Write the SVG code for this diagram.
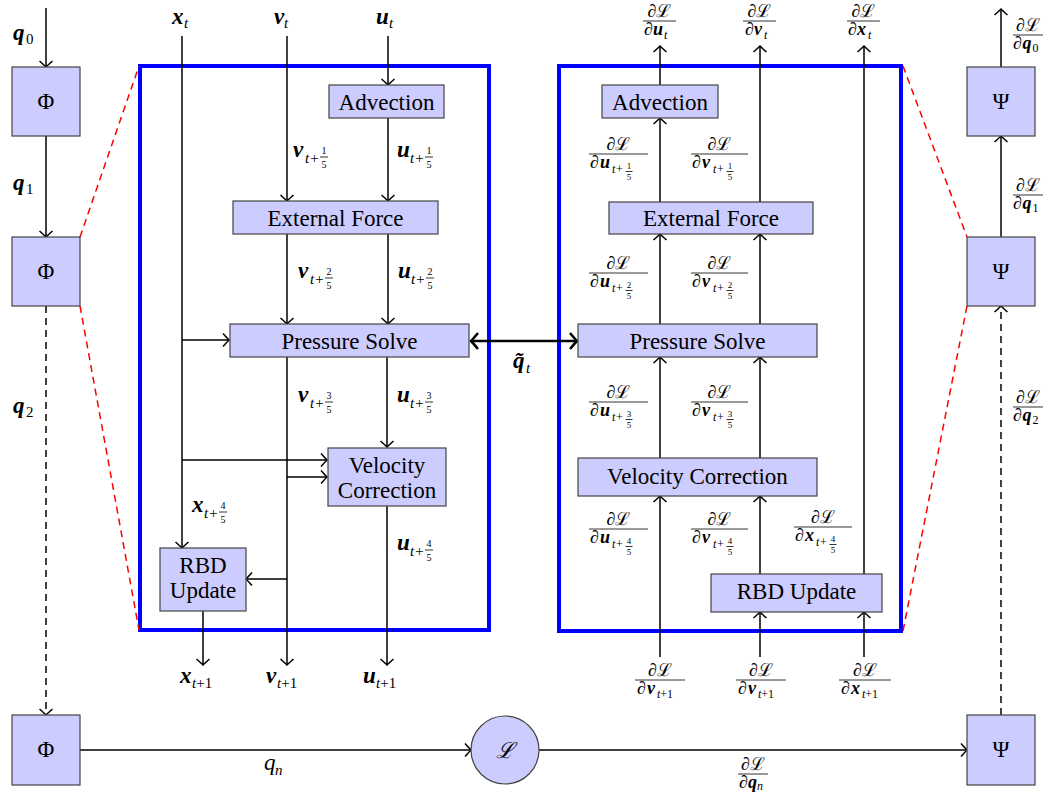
<svg xmlns="http://www.w3.org/2000/svg" width="1049" height="792" viewBox="0 0 1049 792" font-family="Liberation Serif">
<style>
text{font-family:"Liberation Serif",serif;fill:#000}
.bx{fill:#ccccff;stroke:#444;stroke-width:1.2}
.bt{font-size:23px;text-anchor:middle}
.m{font-size:23px}
.b{font-weight:bold;font-style:italic}
.i{font-style:italic}
.s{font-size:15px;font-style:italic}
.sr{font-size:15px}
.fd{font-size:10px;text-anchor:middle}
.fr{font-size:18px}
.fc{font-size:18px;text-anchor:middle}
.fs{font-size:12px;font-style:italic}
.fsr{font-size:12px}
.fx{font-size:9px;text-anchor:middle}
.fl{stroke:#000;stroke-width:0.8}
.ln{stroke:#000;stroke-width:1.5;fill:none}
.a{marker-end:url(#ah)}
.dsh{stroke-dasharray:7 5}
.red{stroke:#ff0000;stroke-width:1.5;stroke-dasharray:7 5;fill:none}
.blue{stroke:#0000ff;stroke-width:4;fill:none}
</style>
<defs>
<marker id="ah" markerUnits="userSpaceOnUse" viewBox="-8 -8 10 16" markerWidth="10" markerHeight="16" refX="0" refY="0" orient="auto" overflow="visible">
<path d="M-6,-6.5 Q-1.5,-1.5 0,0 Q-1.5,1.5 -6,6.5" fill="none" stroke="#000" stroke-width="1.5"/>
</marker>
<marker id="ahT" markerUnits="userSpaceOnUse" viewBox="-10 -10 12 20" markerWidth="12" markerHeight="20" refX="0" refY="0" orient="auto-start-reverse" overflow="visible">
<path d="M-7,-8 Q-2,-2 0,0 Q-2,2 -7,8" fill="none" stroke="#000" stroke-width="2.5"/>
</marker>
</defs>
<rect width="1049" height="792" fill="#fff"/>

<g id="frames">
<rect class="blue" x="140" y="66" width="349" height="564"/>
<rect class="blue" x="559" y="66" width="342" height="565"/>
<line class="red" x1="80" y1="237" x2="139" y2="66"/>
<line class="red" x1="80" y1="306" x2="139" y2="630"/>
<line class="red" x1="903" y1="66" x2="967" y2="237"/>
<line class="red" x1="967" y1="306" x2="903" y2="631"/>
</g>

<g id="connectors">
<path class="ln a" d="M46 8V67"/>
<path class="ln a" d="M46 136V237"/>
<path class="ln a dsh" d="M46 306V715"/>
<path class="ln a" d="M80 750H471"/>
<path class="ln a" d="M539 750H967"/>
<path class="ln a" d="M1001 67V9"/>
<path class="ln a" d="M1001 237V136"/>
<path class="ln a dsh" d="M1001 715V306"/>
<path class="ln a" d="M182 36V548"/>
<path class="ln a" d="M182 340H229"/>
<path class="ln a" d="M182 460H327"/>
<path class="ln a" d="M287 36V201"/>
<path class="ln a" d="M388 36V85"/>
<path class="ln a" d="M388 118V201"/>
<path class="ln a" d="M287 234V324"/>
<path class="ln a" d="M388 234V324"/>
<path class="ln a" d="M287 357V665"/>
<path class="ln a" d="M287 477H327"/>
<path class="ln a" d="M287 579H246"/>
<path class="ln a" d="M387 357V447"/>
<path class="ln a" d="M387 506V665"/>
<path class="ln a" d="M203 611V665"/>
<path d="M471 341H577" fill="none" stroke="#000" stroke-width="2.5" marker-start="url(#ahT)" marker-end="url(#ahT)"/>
<path class="ln a" d="M660 85V46"/>
<path class="ln a" d="M760 202V46"/>
<path class="ln a" d="M864 574V46"/>
<path class="ln a" d="M660 202V118"/>
<path class="ln a" d="M660 324V234"/>
<path class="ln a" d="M760 324V234"/>
<path class="ln a" d="M660 458V357"/>
<path class="ln a" d="M760 458V357"/>
<path class="ln a" d="M660 657V496"/>
<path class="ln a" d="M760 574V496"/>
<path class="ln a" d="M760 657V612"/>
<path class="ln a" d="M864 657V612"/>
</g>

<g id="phi1"><rect class="bx" x="12" y="67" width="68" height="69"/><text class="bt" x="46" y="109">Φ</text></g>
<g id="phi2"><rect class="bx" x="12" y="237" width="68" height="69"/><text class="bt" x="46" y="279">Φ</text></g>
<g id="phi3"><rect class="bx" x="12" y="715" width="68" height="70"/><text class="bt" x="46" y="757">Φ</text></g>
<g id="psi1"><rect class="bx" x="967" y="67" width="68" height="69"/><text class="bt" x="1001" y="109">Ψ</text></g>
<g id="psi2"><rect class="bx" x="967" y="237" width="68" height="69"/><text class="bt" x="1001" y="279">Ψ</text></g>
<g id="psi3"><rect class="bx" x="967" y="715" width="68" height="70"/><text class="bt" x="1001" y="757">Ψ</text></g>
<g id="loss"><circle class="bx" cx="505" cy="750" r="34"/><text x="505" y="758" font-size="22" text-anchor="middle" font-style="italic">ℒ</text></g>

<g id="l-adv"><rect class="bx" x="329" y="85" width="115" height="33"/><text class="bt" x="386.5" y="110">Advection</text></g>
<g id="l-ext"><rect class="bx" x="233" y="201" width="205" height="33"/><text class="bt" x="335.5" y="226">External Force</text></g>
<g id="l-ps"><rect class="bx" x="230" y="324" width="239" height="33"/><text class="bt" x="349.5" y="349">Pressure Solve</text></g>
<g id="l-vc"><rect class="bx" x="328" y="448" width="118" height="58"/><text class="bt" x="387" y="473">Velocity</text><text class="bt" x="387" y="498">Correction</text></g>
<g id="l-rbd"><rect class="bx" x="160" y="548" width="86" height="63"/><text class="bt" x="203" y="573">RBD</text><text class="bt" x="203" y="598">Update</text></g>

<g id="r-adv"><rect class="bx" x="602" y="85" width="116" height="33"/><text class="bt" x="660" y="110">Advection</text></g>
<g id="r-ext"><rect class="bx" x="609" y="202" width="204" height="32"/><text class="bt" x="711" y="226">External Force</text></g>
<g id="r-ps"><rect class="bx" x="578" y="324" width="239" height="33"/><text class="bt" x="697.5" y="349">Pressure Solve</text></g>
<g id="r-vc"><rect class="bx" x="578" y="458" width="239" height="38"/><text class="bt" x="697.5" y="484">Velocity Correction</text></g>
<g id="r-rbd"><rect class="bx" x="711" y="574" width="171" height="38"/><text class="bt" x="796.5" y="599">RBD Update</text></g>

<g id="labels-left">
<text class="m b" x="13" y="40">q</text><text class="sr" x="26" y="44">0</text>
<text class="m b" x="13" y="190">q</text><text class="sr" x="26" y="194">1</text>
<text class="m b" x="13" y="413">q</text><text class="sr" x="26" y="417">2</text>
<text class="m i" x="264" y="770">q</text><text class="s" x="275" y="775">n</text>

<text class="m b" x="172" y="24">x</text><text class="s" x="184" y="28">t</text>
<text class="m b" x="274" y="24">v</text><text class="s" x="284" y="28">t</text>
<text class="m b" x="376" y="24">u</text><text class="s" x="389" y="28">t</text>

<g transform="translate(293,157)"><text class="m b">v</text><text class="s" x="12" y="6">t+</text><text class="fd" x="31" y="-3">1</text><line class="fl" x1="27" y1="0" x2="35" y2="0"/><text class="fd" x="31" y="11">5</text></g>
<g transform="translate(397,157)"><text class="m b">u</text><text class="s" x="13" y="6">t+</text><text class="fd" x="32" y="-3">1</text><line class="fl" x1="28" y1="0" x2="36" y2="0"/><text class="fd" x="32" y="11">5</text></g>
<g transform="translate(298,278)"><text class="m b">v</text><text class="s" x="12" y="6">t+</text><text class="fd" x="31" y="-3">2</text><line class="fl" x1="27" y1="0" x2="35" y2="0"/><text class="fd" x="31" y="11">5</text></g>
<g transform="translate(398,278)"><text class="m b">u</text><text class="s" x="13" y="6">t+</text><text class="fd" x="32" y="-3">2</text><line class="fl" x1="28" y1="0" x2="36" y2="0"/><text class="fd" x="32" y="11">5</text></g>
<g transform="translate(298,402)"><text class="m b">v</text><text class="s" x="12" y="6">t+</text><text class="fd" x="31" y="-3">3</text><line class="fl" x1="27" y1="0" x2="35" y2="0"/><text class="fd" x="31" y="11">5</text></g>
<g transform="translate(397,402)"><text class="m b">u</text><text class="s" x="13" y="6">t+</text><text class="fd" x="32" y="-3">3</text><line class="fl" x1="28" y1="0" x2="36" y2="0"/><text class="fd" x="32" y="11">5</text></g>
<g transform="translate(192,512)"><text class="m b">x</text><text class="s" x="12" y="6">t+</text><text class="fd" x="31" y="-3">4</text><line class="fl" x1="27" y1="0" x2="35" y2="0"/><text class="fd" x="31" y="11">5</text></g>
<g transform="translate(397,550)"><text class="m b">u</text><text class="s" x="13" y="6">t+</text><text class="fd" x="32" y="-3">4</text><line class="fl" x1="28" y1="0" x2="36" y2="0"/><text class="fd" x="32" y="11">5</text></g>

<text class="m b" x="180" y="683">x</text><text class="s" x="192" y="688">t<tspan font-style="normal">+1</tspan></text>
<text class="m b" x="266" y="683">v</text><text class="s" x="277" y="688">t<tspan font-style="normal">+1</tspan></text>
<text class="m b" x="363" y="683">u</text><text class="s" x="376" y="688">t<tspan font-style="normal">+1</tspan></text>

<text class="m b" x="513" y="368">q̃</text><text class="s" x="526" y="373">t</text>
</g>

<g id="labels-right">
<g transform="translate(643,21)"><line class="fl" x1="0" y1="0" x2="33" y2="0"/><text class="fc" x="16.5" y="-4">∂ℒ</text><text class="fr" x="1" y="14">∂</text><text class="fr b" x="10" y="14">u</text><text class="fs" x="21" y="18">t</text></g>
<g transform="translate(743,21)"><line class="fl" x1="0" y1="0" x2="33" y2="0"/><text class="fc" x="16.5" y="-4">∂ℒ</text><text class="fr" x="2" y="14">∂</text><text class="fr b" x="11" y="14">v</text><text class="fs" x="21" y="18">t</text></g>
<g transform="translate(847,21)"><line class="fl" x1="0" y1="0" x2="33" y2="0"/><text class="fc" x="16.5" y="-4">∂ℒ</text><text class="fr" x="1" y="14">∂</text><text class="fr b" x="10" y="14">x</text><text class="fs" x="21" y="18">t</text></g>

<g transform="translate(589,154)"><line class="fl" x1="0" y1="0" x2="59" y2="0"/><text class="fc" x="29.5" y="-4">∂ℒ</text><text class="fr" x="1" y="14">∂</text><text class="fr b" x="11" y="14">u</text><text class="fs" x="23" y="19">t+</text><text class="fx" x="40" y="15">1</text><line class="fl" x1="36.5" y1="17.5" x2="43.5" y2="17.5"/><text class="fx" x="40" y="26">5</text></g>
<g transform="translate(691,154)"><line class="fl" x1="0" y1="0" x2="57" y2="0"/><text class="fc" x="28.5" y="-4">∂ℒ</text><text class="fr" x="1" y="14">∂</text><text class="fr b" x="11" y="14">v</text><text class="fs" x="22" y="19">t+</text><text class="fx" x="39" y="15">1</text><line class="fl" x1="35.5" y1="17.5" x2="42.5" y2="17.5"/><text class="fx" x="39" y="26">5</text></g>
<g transform="translate(589,273)"><line class="fl" x1="0" y1="0" x2="59" y2="0"/><text class="fc" x="29.5" y="-4">∂ℒ</text><text class="fr" x="1" y="14">∂</text><text class="fr b" x="11" y="14">u</text><text class="fs" x="23" y="19">t+</text><text class="fx" x="40" y="15">2</text><line class="fl" x1="36.5" y1="17.5" x2="43.5" y2="17.5"/><text class="fx" x="40" y="26">5</text></g>
<g transform="translate(691,273)"><line class="fl" x1="0" y1="0" x2="57" y2="0"/><text class="fc" x="28.5" y="-4">∂ℒ</text><text class="fr" x="1" y="14">∂</text><text class="fr b" x="11" y="14">v</text><text class="fs" x="22" y="19">t+</text><text class="fx" x="39" y="15">2</text><line class="fl" x1="35.5" y1="17.5" x2="42.5" y2="17.5"/><text class="fx" x="39" y="26">5</text></g>
<g transform="translate(589,402)"><line class="fl" x1="0" y1="0" x2="59" y2="0"/><text class="fc" x="29.5" y="-4">∂ℒ</text><text class="fr" x="1" y="14">∂</text><text class="fr b" x="11" y="14">u</text><text class="fs" x="23" y="19">t+</text><text class="fx" x="40" y="15">3</text><line class="fl" x1="36.5" y1="17.5" x2="43.5" y2="17.5"/><text class="fx" x="40" y="26">5</text></g>
<g transform="translate(691,402)"><line class="fl" x1="0" y1="0" x2="57" y2="0"/><text class="fc" x="28.5" y="-4">∂ℒ</text><text class="fr" x="1" y="14">∂</text><text class="fr b" x="11" y="14">v</text><text class="fs" x="22" y="19">t+</text><text class="fx" x="39" y="15">3</text><line class="fl" x1="35.5" y1="17.5" x2="42.5" y2="17.5"/><text class="fx" x="39" y="26">5</text></g>
<g transform="translate(589,529)"><line class="fl" x1="0" y1="0" x2="59" y2="0"/><text class="fc" x="29.5" y="-4">∂ℒ</text><text class="fr" x="1" y="14">∂</text><text class="fr b" x="11" y="14">u</text><text class="fs" x="23" y="19">t+</text><text class="fx" x="40" y="15">4</text><line class="fl" x1="36.5" y1="17.5" x2="43.5" y2="17.5"/><text class="fx" x="40" y="26">5</text></g>
<g transform="translate(691,529)"><line class="fl" x1="0" y1="0" x2="57" y2="0"/><text class="fc" x="28.5" y="-4">∂ℒ</text><text class="fr" x="1" y="14">∂</text><text class="fr b" x="11" y="14">v</text><text class="fs" x="22" y="19">t+</text><text class="fx" x="39" y="15">4</text><line class="fl" x1="35.5" y1="17.5" x2="42.5" y2="17.5"/><text class="fx" x="39" y="26">5</text></g>
<g transform="translate(794,527)"><line class="fl" x1="0" y1="0" x2="58" y2="0"/><text class="fc" x="29" y="-4">∂ℒ</text><text class="fr" x="1" y="14">∂</text><text class="fr b" x="11" y="14">x</text><text class="fs" x="22" y="19">t+</text><text class="fx" x="39" y="15">4</text><line class="fl" x1="35.5" y1="17.5" x2="42.5" y2="17.5"/><text class="fx" x="39" y="26">5</text></g>

<g transform="translate(635,680)"><line class="fl" x1="0" y1="0" x2="50" y2="0"/><text class="fc" x="25" y="-4">∂ℒ</text><text class="fr" x="2" y="14">∂</text><text class="fr b" x="12" y="14">v</text><text class="fs" x="22" y="18">t<tspan font-style="normal">+1</tspan></text></g>
<g transform="translate(736,680)"><line class="fl" x1="0" y1="0" x2="50" y2="0"/><text class="fc" x="25" y="-4">∂ℒ</text><text class="fr" x="2" y="14">∂</text><text class="fr b" x="12" y="14">v</text><text class="fs" x="22" y="18">t<tspan font-style="normal">+1</tspan></text></g>
<g transform="translate(839,680)"><line class="fl" x1="0" y1="0" x2="52" y2="0"/><text class="fc" x="26" y="-4">∂ℒ</text><text class="fr" x="2" y="14">∂</text><text class="fr b" x="12" y="14">x</text><text class="fs" x="23" y="18">t<tspan font-style="normal">+1</tspan></text></g>

<g transform="translate(1013,35)"><line class="fl" x1="0" y1="0" x2="30" y2="0"/><text class="fc" x="15" y="-4">∂ℒ</text><text class="fr" x="0" y="14">∂</text><text class="fr b" x="9.5" y="14">q</text><text class="fsr" x="19.5" y="17">0</text></g>
<g transform="translate(1013,195)"><line class="fl" x1="0" y1="0" x2="30" y2="0"/><text class="fc" x="15" y="-4">∂ℒ</text><text class="fr" x="0" y="14">∂</text><text class="fr b" x="9.5" y="14">q</text><text class="fsr" x="19.5" y="17">1</text></g>
<g transform="translate(1013,407)"><line class="fl" x1="0" y1="0" x2="30" y2="0"/><text class="fc" x="15" y="-4">∂ℒ</text><text class="fr" x="0" y="14">∂</text><text class="fr b" x="9.5" y="14">q</text><text class="fsr" x="19.5" y="17">2</text></g>
<g transform="translate(738,774)"><line class="fl" x1="0" y1="0" x2="30" y2="0"/><text class="fc" x="15" y="-4" font-size="16">∂ℒ</text><text class="fr" x="1" y="14" font-size="16">∂</text><text class="fr b" x="10" y="14" font-size="16">q</text><text class="fs" x="19" y="16">n</text></g>
</g>
</svg>
